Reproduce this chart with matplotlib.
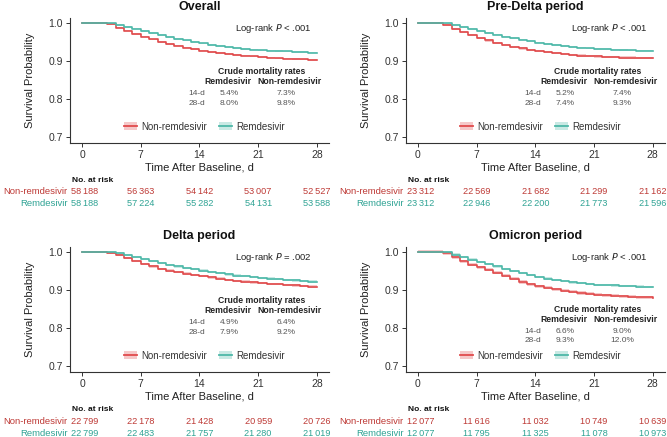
import matplotlib
matplotlib.use("Agg")
import matplotlib.pyplot as plt
from matplotlib.patches import Patch
from matplotlib.lines import Line2D

plt.rcParams['font.family'] = ['Liberation Sans', 'DejaVu Sans']

# ---- data ----
days = list(range(29))
risk_days = [0, 7, 14, 21, 28]

titles = ['Overall', 'Pre-Delta period', 'Delta period', 'Omicron period']
pvals = ['Log-rank $P$ < .001', 'Log-rank $P$ < .001', 'Log-rank $P$ = .002', 'Log-rank $P$ < .001']

non_overall = [1, 1, 1, .997, .988, .980, .971, .964, .957, .950, .945, .940, .935, .931, .927,
               .924, .921, .918, .916, .914, .912, .910, .909, .907, .906, .905, .904, .903, .902]
rem_overall = [1, 1, 1, .999, .995, .990, .985, .979, .973, .968, .963, .958, .954, .950, .946,
               .942, .939, .936, .934, .932, .930, .928, .927, .926, .925, .924, .923, .922, .921]
non_pre = [1, 1, 1, .995, .985, .976, .968, .961, .954, .948, .942, .937, .933, .929, .926,
           .923, .920, .918, .916, .914, .913, .912, .911, .910, .909, .909, .908, .908, .907]
rem_pre = [1, 1, 1, .999, .994, .989, .984, .979, .974, .969, .964, .960, .956, .952, .948,
           .945, .942, .939, .937, .935, .933, .932, .931, .930, .929, .928, .927, .927, .926]
non_delta = [1, 1, 1, .998, .992, .985, .976, .969, .962, .956, .951, .947, .943, .939, .936,
             .933, .930, .927, .924, .922, .920, .918, .916, .915, .913, .912, .910, .909, .908]
rem_delta = [1, 1, 1, .999, .996, .992, .986, .981, .976, .971, .966, .962, .958, .955, .951,
             .947, .944, .941, .938, .936, .934, .932, .930, .928, .927, .925, .924, .922, .921]
non_omi = [1, 1, 1, .996, .986, .976, .967, .960, .953, .945, .937, .929, .921, .915, .910,
           .906, .902, .898, .895, .892, .890, .888, .886, .885, .883, .882, .881, .881, .880]
rem_omi = [1, 1, 1, .999, .993, .987, .980, .974, .968, .962, .956, .950, .944, .939, .934,
           .930, .926, .923, .920, .918, .916, .914, .913, .912, .911, .910, .909, .908, .907]

non_surv = [non_overall, non_pre, non_delta, non_omi]
rem_surv = [rem_overall, rem_pre, rem_delta, rem_omi]
non_ci = [0.002, 0.003, 0.003, 0.004]   # half-width of shaded band
rem_ci = [0.002, 0.002, 0.003, 0.003]

rem_rates = [['5.4%', '8.0%'], ['5.2%', '7.4%'], ['4.9%', '7.9%'], ['6.6%', '9.3%']]
non_rates = [['7.3%', '9.8%'], ['7.4%', '9.3%'], ['6.4%', '9.2%'], ['9.0%', '12.0%']]

non_risk = [['58\u2009188', '56\u2009363', '54\u2009142', '53\u2009007', '52\u2009527'],
            ['23\u2009312', '22\u2009569', '21\u2009682', '21\u2009299', '21\u2009162'],
            ['22\u2009799', '22\u2009178', '21\u2009428', '20\u2009959', '20\u2009726'],
            ['12\u2009077', '11\u2009616', '11\u2009032', '10\u2009749', '10\u2009639']]
rem_risk = [['58\u2009188', '57\u2009224', '55\u2009282', '54\u2009131', '53\u2009588'],
            ['23\u2009312', '22\u2009946', '22\u2009200', '21\u2009773', '21\u2009596'],
            ['22\u2009799', '22\u2009483', '21\u2009757', '21\u2009280', '21\u2009019'],
            ['12\u2009077', '11\u2009795', '11\u2009325', '11\u2009078', '10\u2009973']]

# table block vertical position (axes fraction) per panel
table_y = [0.568, 0.568, 0.570, 0.504]

RED = '#E04A4C'
TEAL = '#4DB8A8'
RED_TXT = '#BE3A36'
TEAL_TXT = '#2FA394'

fig = plt.figure(figsize=(6.67, 4.37), dpi=100)
positions = [(0.105, 0.6728), (0.6087, 0.6728), (0.105, 0.1487), (0.6087, 0.1487)]

for i, (left, bottom) in enumerate(positions):
    ax = fig.add_axes([left, bottom, 0.388, 0.286])
    ns, rs = non_surv[i], rem_surv[i]
    ax.fill_between(days, [v - non_ci[i] for v in ns], [v + non_ci[i] for v in ns],
                    step='post', color=RED, alpha=0.3, lw=0)
    ax.fill_between(days, [v - rem_ci[i] for v in rs], [v + rem_ci[i] for v in rs],
                    step='post', color=TEAL, alpha=0.3, lw=0)
    ax.step(days, ns, where='post', color=RED, lw=1.2)
    ax.step(days, rs, where='post', color=TEAL, lw=1.2)

    ax.set_xlim(-1.43, 29.43)
    ax.set_ylim(0.684, 1.013)
    ax.set_xticks(risk_days)
    ax.set_yticks([0.7, 0.8, 0.9, 1.0])
    ax.set_yticklabels(['0.7', '0.8', '0.9', '1.0'])
    for s in ['top', 'right']:
        ax.spines[s].set_visible(False)
    for s in ['left', 'bottom']:
        ax.spines[s].set_color('#333333')
        ax.spines[s].set_linewidth(0.8)
    ax.tick_params(labelsize=7.5, colors='#333333', length=3, width=0.7, pad=2)
    ax.set_xlabel('Time After Baseline, d', fontsize=8, color='#222222', labelpad=2)
    ax.set_ylabel('Survival Probability', fontsize=8, color='#222222', labelpad=10)
    ax.set_title(titles[i], fontsize=9, fontweight='bold', color='#111111', pad=6)

    ax.text(0.934, 0.92, pvals[i], transform=ax.transAxes, ha='right', va='center',
            fontsize=6.8, color='#222222')

    ty = table_y[i]
    ax.text(0.741, ty, 'Crude mortality rates', transform=ax.transAxes, ha='center',
            va='center', fontsize=6.2, fontweight='bold', color='#222222')
    ax.text(0.61, ty - 0.08, 'Remdesivir', transform=ax.transAxes, ha='center',
            va='center', fontsize=6.2, fontweight='bold', color='#222222')
    ax.text(0.849, ty - 0.08, 'Non-remdesivir', transform=ax.transAxes, ha='center',
            va='center', fontsize=6.2, fontweight='bold', color='#222222')
    for j, lab in enumerate(['14-d', '28-d']):
        yy = ty - 0.176 - j * 0.078
        ax.text(0.49, yy, lab, transform=ax.transAxes, ha='center', va='center',
                fontsize=6.0, color='#555555')
        ax.text(0.614, yy, rem_rates[i][j], transform=ax.transAxes, ha='center',
                va='center', fontsize=6.0, color='#555555')
        ax.text(0.834, yy, non_rates[i][j], transform=ax.transAxes, ha='center',
                va='center', fontsize=6.0, color='#555555')

    h_non = (Patch(facecolor=RED, alpha=0.3, lw=0), Line2D([], [], color=RED, lw=1.3))
    h_rem = (Patch(facecolor=TEAL, alpha=0.3, lw=0), Line2D([], [], color=TEAL, lw=1.3))
    ax.legend([h_non, h_rem], ['Non-remdesivir', 'Remdesivir'], loc='center',
              bbox_to_anchor=(0.52, 0.13), ncol=2, frameon=False, fontsize=7,
              handlelength=1.3, handleheight=0.9, handletextpad=0.5, columnspacing=1.2,
              labelcolor='#333333')

    # number at risk table
    tr = ax.get_xaxis_transform()
    ax.text(-1.2, -0.30, 'No. at risk', transform=tr, ha='left', va='center',
            fontsize=6.0, fontweight='bold', color='#111111', clip_on=False)
    ax.text(-1.7, -0.392, 'Non-remdesivir', transform=tr, ha='right', va='center',
            fontsize=6.8, color=RED_TXT, clip_on=False)
    ax.text(-1.7, -0.488, 'Remdesivir', transform=tr, ha='right', va='center',
            fontsize=6.8, color=TEAL_TXT, clip_on=False)
    for d, a, b in zip(risk_days, non_risk[i], rem_risk[i]):
        xx = d + 0.35 if d == 0 else d
        ax.text(xx, -0.392, a, transform=tr, ha='center', va='center',
                fontsize=6.6, color=RED_TXT, clip_on=False)
        ax.text(xx, -0.488, b, transform=tr, ha='center', va='center',
                fontsize=6.6, color=TEAL_TXT, clip_on=False)

fig.savefig('out.png', dpi=100, facecolor='white')
